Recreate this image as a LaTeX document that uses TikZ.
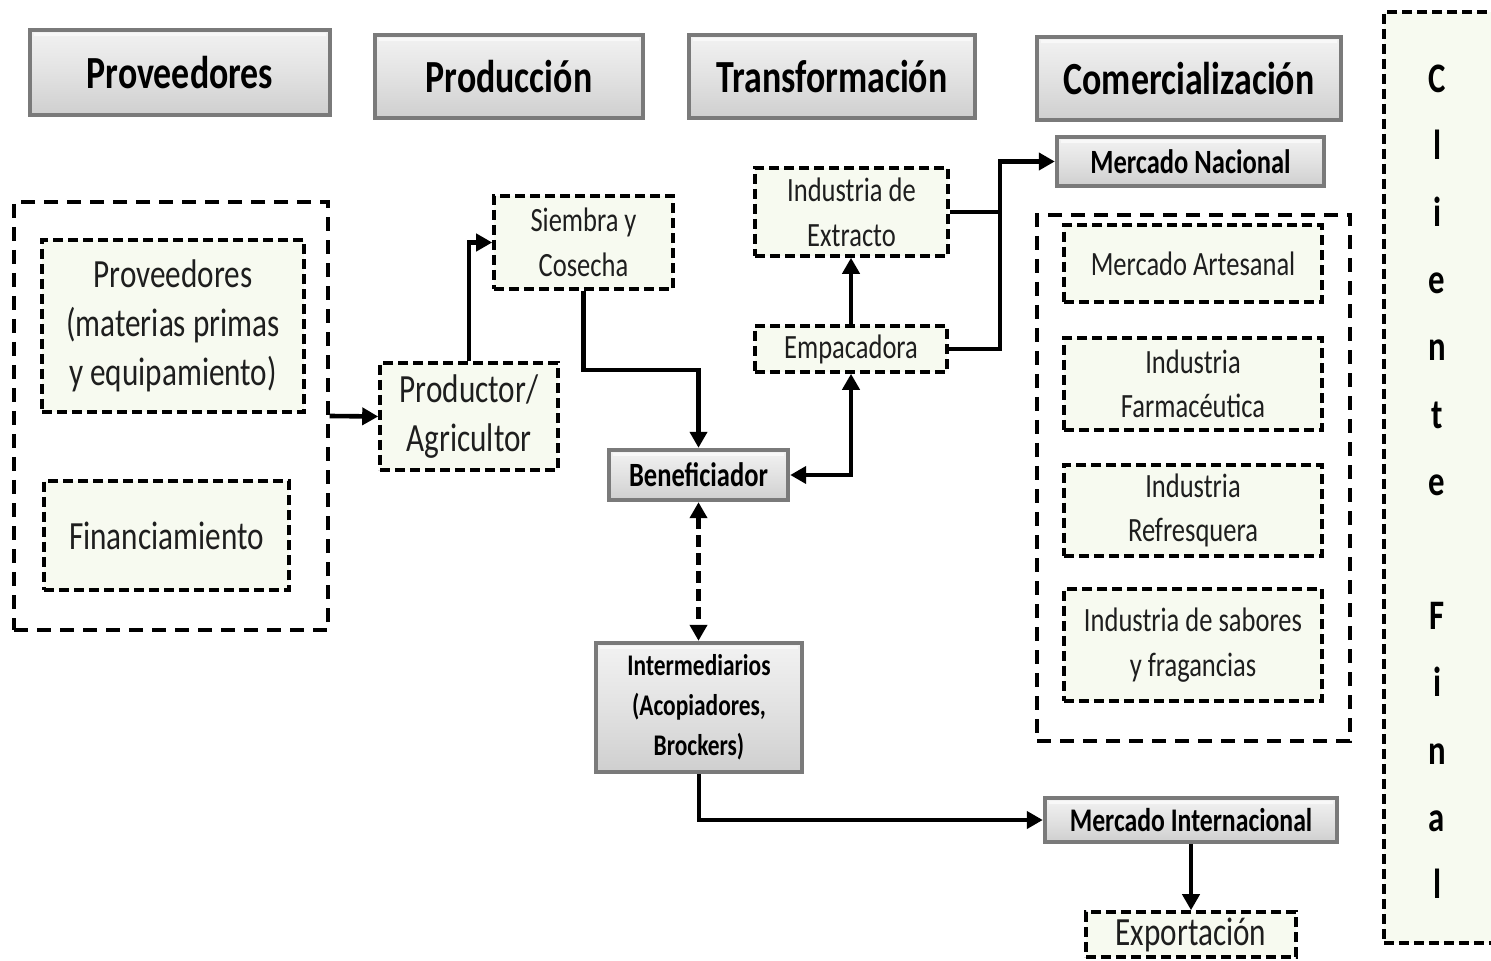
\documentclass[tikz,border=0pt]{standalone}
\usepackage{fontspec}
\setmainfont{Carlito}[FakeStretch=0.78]
\usetikzlibrary{arrows.meta}
\definecolor{boxfill}{HTML}{F7FAF0}
\definecolor{txtgray}{HTML}{1E1E1E}
\definecolor{gEdge}{HTML}{7A7A7A}
\definecolor{gTop}{HTML}{F2F2F2}
\definecolor{gMid}{HTML}{E2E2E2}
\definecolor{gBot}{HTML}{CFCFCF}
\definecolor{gHi}{HTML}{F8F8F8}
\newcommand{\fsz}[2]{\fontsize{#1}{#2}\selectfont}
\begin{document}
\begin{tikzpicture}[x=0.5pt,y=-0.5pt,
  >={Triangle[length=8pt,width=8.5pt]},
  graybox/.style={draw=gEdge, line width=2.2pt, top color=gTop, bottom color=gBot,
    middle color=gMid, inner sep=0pt, align=center, font=\bfseries,
    path picture={\draw[gHi, line width=1.2pt]
      ([xshift=2.2pt,yshift=-2.2pt]path picture bounding box.north west) --
      ([xshift=-2.2pt,yshift=-2.2pt]path picture bounding box.north east);}},
  header/.style={graybox, font=\fsz{23}{28}\bfseries},
  dbox/.style={draw=black, line width=1.8pt, dash pattern=on 5pt off 2.5pt,
    fill=boxfill, inner sep=0pt, align=center, text=txtgray},
  grp/.style={draw=black, line width=1.7pt, dash pattern=on 7pt off 4.5pt, inner sep=0pt},
  conn/.style={line width=2.3pt, ->},
]
\useasboundingbox (0,0) rectangle (1491,961);

% column headers
\node[header, minimum width=150pt, minimum height=42.5pt] (hprov) at (180,72.5) {\raisebox{-2pt}{Proveedores}};
\node[header, minimum width=134pt, minimum height=41.5pt] (hprod) at (509,76.5) {\raisebox{-1pt}{Producción}};
\node[header, minimum width=143pt, minimum height=41.5pt] (htrans) at (832,76.5) {\raisebox{-1pt}{Transformación}};
\node[header, minimum width=152pt, minimum height=41.5pt] (hcom) at (1189,78.5) {\raisebox{-1pt}{Comercialización}};

% final client column
\node[dbox, minimum width=55.5pt, minimum height=465.5pt] (cliente) at (1439.5,477.5) {};
\node[font=\fsz{21}{33.6}\bfseries, align=center, inner sep=0pt] (clientetxt) at (1437,481.5)
  {C\\l\\i\\e\\n\\t\\e\\[33.6pt]F\\i\\n\\a\\l};

% suppliers
\node[grp, minimum width=157pt, minimum height=214pt] (provgrp) at (171,416) {};
\node[dbox, minimum width=131pt, minimum height=86pt, font=\fsz{20}{24.5}] (prov) at (173,326)
  {Proveedores\\(materias primas\\y equipamiento)};
\node[dbox, minimum width=122.5pt, minimum height=54.5pt, font=\fsz{20}{24.5}] (fin) at (166.5,535.5)
  {Financiamiento};

% production
\node[dbox, minimum width=89pt, minimum height=53.5pt, font=\fsz{20}{24.5}] (productor) at (469,416.5)
  {Productor/\\Agricultor};
\node[dbox, minimum width=89.5pt, minimum height=46.5pt, font=\fsz{17}{22.5}] (siembra) at (583.5,242.5)
  {Siembra y\\Cosecha};
\node[graybox, minimum width=89.5pt, minimum height=25pt, font=\fsz{17}{21}\bfseries] (benef) at (698.5,475)
  {Beneficiador};
\node[graybox, minimum width=103pt, minimum height=64.5pt, font=\fsz{15}{20}\bfseries] (inter) at (699,707.5)
  {Intermediarios\\(Acopiadores,\\Brockers)};

% transformation
\node[dbox, minimum width=96.5pt, minimum height=44pt, font=\fsz{17}{22.5}] (extr) at (851.5,212)
  {Industria de\\Extracto};
\node[dbox, minimum width=96pt, minimum height=23pt, font=\fsz{17}{22.5}] (emp) at (851,349)
  {Empacadora};

% commercialisation
\node[graybox, minimum width=133.5pt, minimum height=24.5pt, font=\fsz{17}{21}\bfseries] (mnac) at (1190.5,161.5)
  {Mercado Nacional};
\node[grp, minimum width=156.5pt, minimum height=263pt] (comgrp) at (1193.5,478) {};
\node[dbox, minimum width=129pt, minimum height=38.5pt, font=\fsz{17}{22}] (artes) at (1193,263.5)
  {Mercado Artesanal};
\node[dbox, minimum width=129pt, minimum height=46pt, font=\fsz{17}{22}] (farma) at (1193,384)
  {Industria\\Farmacéutica};
\node[dbox, minimum width=129pt, minimum height=45.5pt, font=\fsz{17}{22}] (refres) at (1193,510.5)
  {Industria\\Refresquera};
\node[dbox, minimum width=129pt, minimum height=56pt, font=\fsz{17}{22.5}] (sabores) at (1193,645)
  {Industria de sabores\\y fragancias};
\node[graybox, minimum width=146pt, minimum height=22pt, font=\fsz{16.5}{20}\bfseries] (mint) at (1191,820)
  {Mercado Internacional};
\node[dbox, minimum width=105pt, minimum height=22.5pt, font=\fsz{20}{24}] (export) at (1191,934.5)
  {Exportación};

% flows
\coordinate (jn) at (extr.east -| 1000,0);
\draw[conn] (provgrp.east) -- (productor.west);
\draw[conn] (productor.north) |- (siembra.west);
\draw[conn] (siembra.south) -- (siembra.south |- 0,370) -| (benef.north);
\draw[conn] (emp.east) -| (jn) |- (mnac.west);
\draw[line width=2.3pt] (extr.east) -- (jn);
\draw[conn] (emp.north) -- (emp.north |- extr.south);
\draw[conn, <->] (benef.east) -| (emp.south);
\draw[conn, <->, dash pattern=on 6pt off 3pt] (benef.south) -- (benef.south |- inter.north);
\draw[conn] (inter.south) |- (mint.west);
\draw[conn] (mint.south) -- (mint.south |- export.north);
\end{tikzpicture}
\end{document}
